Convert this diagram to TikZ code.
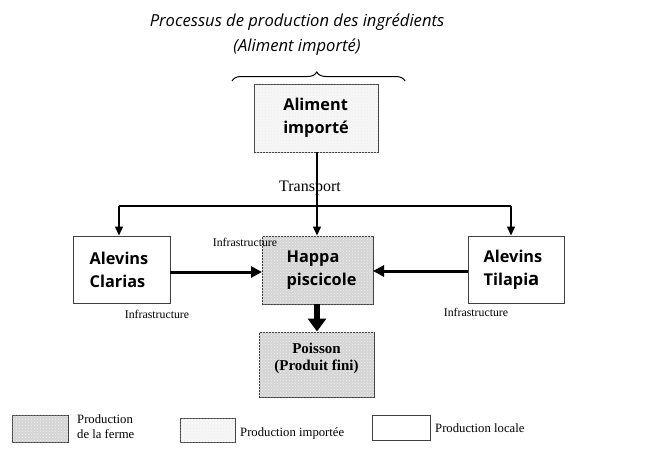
\documentclass[tikz,border=0pt]{standalone}
\usepackage{fontspec}
\setmainfont{Liberation Serif}
\newfontfamily\osans{Open Sans}
\usetikzlibrary{arrows.meta,patterns,decorations.pathreplacing}
\begin{document}
\begin{tikzpicture}[x=1pt,y=-1pt,
  boxbase/.style={draw=black!75,line width=0.9pt,minimum width=#1,inner sep=0pt},
  farm/.style={fill=black!17,postaction={pattern=crosshatch dots,pattern color=black!6}},
  imported/.style={fill=black!3,postaction={pattern=crosshatch dots,pattern color=black!8}},
  boxtxt/.style={font=\osans\bfseries\fontsize{16.3}{23}\selectfont,align=left},
  sertxt/.style={font=\fontsize{#1}{#1}\selectfont,inner sep=0pt},
  thin/.style={line width=1.4pt,-{Triangle[length=9pt,width=8pt]}},
  mid/.style={line width=3pt,-{Triangle[length=11pt,width=11pt]}},
  big/.style={line width=6pt,-{Triangle[length=13pt,width=18pt]}}]
\useasboundingbox (0,0) rectangle (653,448);
% title
\node[font=\osans\itshape\fontsize{16.6}{16.6}\selectfont,inner sep=0pt] (t1) at (297,22) {Processus de production des ingrédients};
\node[font=\osans\itshape\fontsize{16.6}{16.6}\selectfont,inner sep=0pt] (t2) at (297,47) {(Aliment importé)};
\draw[line width=1pt,decorate,decoration={brace,amplitude=9pt,aspect=0.49}] (232,81) -- (405,81);
% boxes
\path[boxbase,imported] (254,84) rectangle (378,152);
\node[boxtxt] (alim) at (316,118) {Aliment\\importé};
\coordinate (alimB) at (317,152);
\draw[boxbase] (73,236) rectangle (170,303);
\node[boxtxt] (clar) at (119,269.5) {Alevins\\Clarias};
\path[boxbase,farm] (262,236) rectangle (373,304);
\node[boxtxt] (happa) at (321.5,270) {Happa\\piscicole};
\draw[boxbase] (468,236) rectangle (564,303);
\node[boxtxt] (tilap) at (513,269.5) {Alevins\\Tilapi{\fontsize{18.5}{23}\selectfont a}};
\path[boxbase,farm] (259,332) rectangle (374,397);
\node[font=\bfseries\fontsize{15}{17}\selectfont,align=center] (poisson) at (316.5,358) {Poisson\\(Produit fini)};
% connectors
\coordinate (j) at (317,206);
\coordinate (jl) at (119,206);
\coordinate (jr) at (511,206);
\draw[line width=1.4pt] (alimB) -- (j);
\draw[line width=1.4pt] (jl) -- (jr);
\draw[thin] (jl) -- (119,235.5);
\draw[thin] (jr) -- (511,235.5);
\draw[thin] (j) -- (317,235.5);
\draw[mid] (170,272) -- (262,272);
\draw[mid] (468,271) -- (373,271);
\draw[big] (317,304) -- (317,331.5);
% labels
\node[sertxt=16] (transport) at (310,188) {Transport};
\node[sertxt=11.8] (inf1) at (245,242) {Infrastructure};
\node[sertxt=11.8] (inf2) at (157,314) {Infrastructure};
\node[sertxt=11.8] (inf3) at (476,312) {Infrastructure};
% legend
\path[boxbase,farm] (12,415) rectangle (68,442);
\node[font=\fontsize{12.7}{15}\selectfont,align=left,anchor=north west,inner sep=0pt] (l1) at (77,414) {Production\\de la ferme};
\path[boxbase,imported] (180,418) rectangle (235,442);
\node[sertxt=12.7,anchor=west] (l2) at (240,433) {Production importée};
\draw[boxbase] (372,415) rectangle (430,440);
\node[sertxt=12.7,anchor=west] (l3) at (435,428) {Production locale};
\end{tikzpicture}
\end{document}
